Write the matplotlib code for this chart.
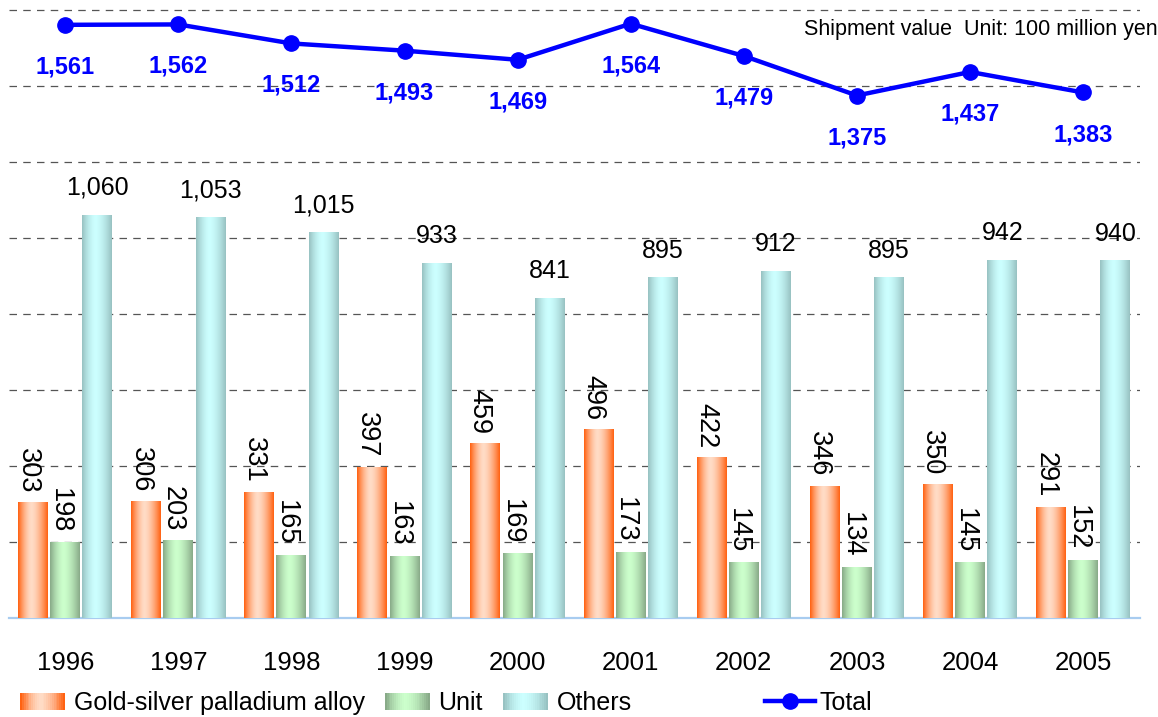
import matplotlib.pyplot as plt
import numpy as np
from matplotlib.legend_handler import HandlerBase
from matplotlib.lines import Line2D
from matplotlib.patches import Rectangle, Patch
from matplotlib.colors import to_rgb

plt.rcParams['font.family'] = ['Liberation Sans', 'DejaVu Sans']

# Data
years = ['1996', '1997', '1998', '1999', '2000', '2001', '2002', '2003', '2004', '2005']
alloy = [303, 306, 331, 397, 459, 496, 422, 346, 350, 291]
unit = [198, 203, 165, 163, 169, 173, 145, 134, 145, 152]
others = [1060, 1053, 1015, 933, 841, 895, 912, 895, 942, 940]
total = [1561, 1562, 1512, 1493, 1469, 1564, 1479, 1375, 1437, 1383]

# (edge colour, centre colour) for the shaded bars
alloy_cols = ('#ff6212', '#ffdcc6')
unit_cols = ('#88aa88', '#ccffcc')
others_cols = ('#98c2c2', '#ccffff')


def gradient_colors(edge, center, n=64):
    t = np.linspace(0, 1, n)
    f = 1 - np.abs((t - 0.45) / np.where(t < 0.45, 0.45, 0.55)) ** 1.6
    e, c = np.array(to_rgb(edge)), np.array(to_rgb(center))
    return e[None, :] * (1 - f[:, None]) + c[None, :] * f[:, None]


class GradientHandler(HandlerBase):
    def __init__(self, edge, center):
        super().__init__()
        self.cols = gradient_colors(edge, center, 24)

    def create_artists(self, legend, orig_handle, xdescent, ydescent,
                       width, height, fontsize, trans):
        n = len(self.cols)
        w = width / n
        return [Rectangle((-xdescent + i * w, -ydescent), w * 1.05, height,
                          facecolor=self.cols[i], edgecolor='none', transform=trans)
                for i in range(n)]


fig = plt.figure(figsize=(11.58, 7.17), dpi=100)
ax = fig.add_axes([0.0075, 0.138, 0.9767, 0.862])

x = np.arange(len(years))
step = 0.285
width = 0.265


def shaded_bars(offset, values, cols):
    rects = ax.bar(x + offset, values, width, color=cols[0], zorder=2)
    grad = gradient_colors(*cols)[None, :, :]
    for r in rects:
        ax.imshow(grad, extent=[r.get_x(), r.get_x() + r.get_width(), 0, r.get_height()],
                  aspect='auto', interpolation='bilinear', zorder=3)
    return rects


r_alloy = shaded_bars(-step, alloy, alloy_cols)
r_unit = shaded_bars(0, unit, unit_cols)
r_others = shaded_bars(step, others, others_cols)

ax.plot(x, total, color='#0000ff', lw=3.2, marker='o', markersize=11, zorder=5)

# value labels
for rects, vals in [(r_alloy, alloy), (r_unit, unit)]:
    for r, v in zip(rects, vals):
        ax.annotate(f'{v}', (r.get_x() + r.get_width() / 2, v), xytext=(-4, 7),
                    textcoords='offset points', rotation=270, ha='center', va='bottom',
                    fontsize=19.5)
for r, v in zip(r_others, others):
    ax.annotate(f'{v:,}', (r.get_x() + r.get_width() / 2, v), xytext=(0, 11),
                textcoords='offset points', ha='center', va='bottom', fontsize=18)
for xi, v in zip(x, total):
    ax.annotate(f'{v:,}', (xi, v), xytext=(0, -22), textcoords='offset points',
                ha='center', va='top', fontsize=17, fontweight='bold', color='#0000ff')

ax.set_xlim(-0.5, 9.5)
ax.set_ylim(0, 618 / 0.38)
ax.set_yticks(np.arange(200, 1601, 200))
ax.yaxis.grid(True, color='#555555', lw=0.9, ls=(0, (6, 5)), zorder=0)
ax.set_axisbelow(True)
ax.tick_params(axis='y', left=False, labelleft=False)
ax.set_xticks(x)
ax.set_xticklabels(years, fontsize=18.5)
ax.tick_params(axis='x', length=0, pad=24)
for s in ['top', 'right', 'left']:
    ax.spines[s].set_visible(False)
ax.spines['bottom'].set_color('#a8ccf0')
ax.spines['bottom'].set_linewidth(1.6)

fig.text(1.0, 1 - 29 / 717, 'Shipment value  Unit: 100 million yen',
         ha='right', va='center', fontsize=15.5)

h1 = [Patch(label='Gold-silver palladium alloy'), Patch(label='Unit'), Patch(label='Others')]
fig.legend(handles=h1, loc='center left', bbox_to_anchor=(20 / 1158, 1 - 703 / 717),
           ncol=3, frameon=False, fontsize=18, borderpad=0, borderaxespad=0,
           handlelength=1.8, handleheight=0.7, handletextpad=0.35, columnspacing=0.8,
           handler_map={h1[0]: GradientHandler(*alloy_cols),
                        h1[1]: GradientHandler(*unit_cols),
                        h1[2]: GradientHandler(*others_cols)})
h2 = [Line2D([], [], color='#0000ff', lw=3.2, marker='o', markersize=11, label='Total')]
fig.legend(handles=h2, loc='center left', bbox_to_anchor=(765 / 1158, 1 - 703 / 717),
           frameon=False, fontsize=18, borderpad=0, borderaxespad=0,
           handlelength=2.0, handletextpad=0.2)

fig.savefig('out.png', dpi=100)
